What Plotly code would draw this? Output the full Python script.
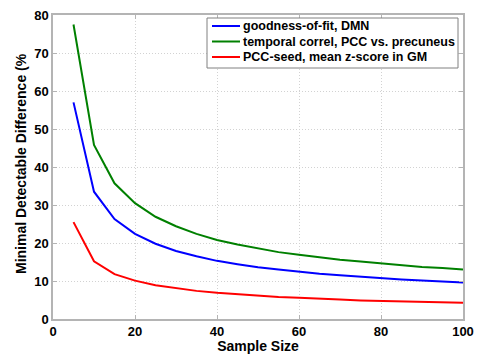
import plotly.graph_objects as go

sample_size = [5, 10, 15, 20, 25, 30, 35, 40, 45, 50, 55, 60, 65, 70, 75, 80, 85, 90, 95, 100]
gof_dmn = [57.0, 33.5, 26.3, 22.4, 19.8, 17.9, 16.5, 15.3, 14.4, 13.6, 13.0, 12.4, 11.9, 11.5, 11.1, 10.7, 10.4, 10.1, 9.8, 9.6]
temporal_correl = [77.5, 45.8, 35.7, 30.5, 26.9, 24.4, 22.4, 20.8, 19.6, 18.5, 17.6, 16.9, 16.2, 15.6, 15.1, 14.6, 14.1, 13.7, 13.4, 13.0]
pcc_seed = [25.5, 15.2, 11.8, 10.1, 8.9, 8.1, 7.4, 6.9, 6.5, 6.1, 5.8, 5.6, 5.3, 5.1, 4.9, 4.8, 4.6, 4.5, 4.4, 4.3]

names = ["goodness-of-fit, DMN", "temporal correl, PCC vs. precuneus", "PCC-seed, mean z-score in GM"]
colors = ["rgb(0,0,255)", "rgb(0,128,0)", "rgb(255,0,0)"]

FONT = "Liberation Sans, Arial, sans-serif"
W, H = 478, 354
L, R, T, B = 53, 15, 15, 35
PW, PH = W - L - R, H - T - B


def px(x):
    return (x - L) / PW


def py(y):
    return (H - B - y) / PH


fig = go.Figure()
for ys, nm, c in zip([gof_dmn, temporal_correl, pcc_seed], names, colors):
    fig.add_trace(go.Scatter(x=sample_size, y=ys, mode="lines", name=nm,
                             line=dict(color=c, width=2), showlegend=False))

axis_common = dict(
    showline=True, linecolor="#b4b4b4", linewidth=1.5, mirror="ticks",
    showgrid=True, gridcolor="#d2d2d2", griddash="1px,2px", gridwidth=1,
    ticks="inside", ticklen=4, tickcolor="#b4b4b4",
    zeroline=False, automargin=False,
    tickfont=dict(family=FONT, size=13, color="black", weight="bold"),
)

fig.update_layout(
    width=W, height=H,
    margin=dict(l=L, r=R, t=T, b=B),
    paper_bgcolor="white", plot_bgcolor="white",
    font=dict(family=FONT, color="black"),
    xaxis=dict(range=[0, 100], dtick=20, **axis_common,
               title=dict(text="<b>Sample Size</b>", font=dict(family=FONT, size=14), standoff=2)),
    yaxis=dict(range=[0, 80], dtick=10, **axis_common),
    showlegend=False,
)

# manual legend (box, swatches, labels)
fig.add_shape(type="rect", xref="paper", yref="paper",
              x0=px(207), x1=px(458), y0=py(68), y1=py(18),
              line=dict(color="#808080", width=1), fillcolor="white", layer="above")
entry_y = [26, 41.5, 57]
for nm, c, ey in zip(names, colors, entry_y):
    fig.add_shape(type="line", xref="paper", yref="paper",
                  x0=px(212), x1=px(240), y0=py(ey), y1=py(ey),
                  line=dict(color=c, width=2), layer="above")
    fig.add_annotation(text="<b>" + nm + "</b>", xref="paper", yref="paper",
                       x=px(241), y=py(ey), xanchor="left", yanchor="middle",
                       showarrow=False, font=dict(family=FONT, size=12.5, color="black"))

fig.add_annotation(text="<b>Minimal Detectable Difference (%</b>", textangle=-90,
                   xref="paper", yref="paper", x=px(21), y=py(164),
                   xanchor="center", yanchor="middle", showarrow=False,
                   font=dict(family=FONT, size=14, color="black"))

fig.write_html("out.html", config={"displayModeBar": False},
               post_script="document.body.style.margin='0';document.body.style.overflow='hidden';")
